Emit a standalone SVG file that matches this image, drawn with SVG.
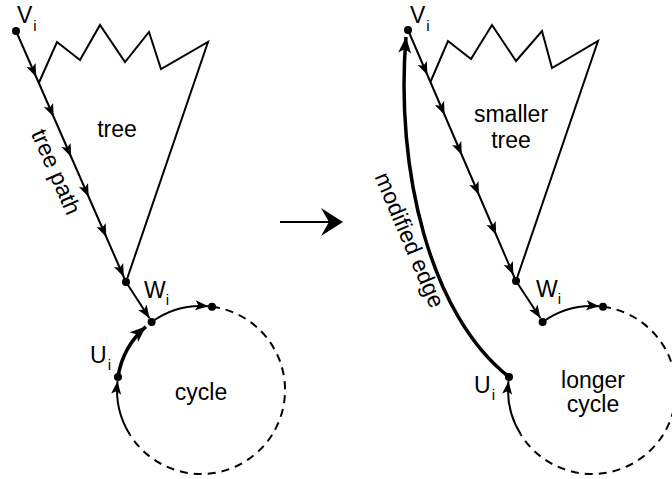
<svg xmlns="http://www.w3.org/2000/svg" width="672" height="479" viewBox="0 0 672 479">
<style>
.ln{fill:none;stroke:#000;stroke-width:2;stroke-linejoin:miter}
.bold{stroke-width:3.5}
.dash{stroke-dasharray:8 6}
.dot{fill:#000}
text{font-family:"Liberation Sans",Arial,sans-serif;fill:#000}
.t{font-size:23px;text-anchor:middle}
</style>
<defs>
<marker id="ah" markerUnits="userSpaceOnUse" markerWidth="16" markerHeight="12" viewBox="-14 -6 16 12" refX="0" refY="0" orient="auto">
<path d="M0,0 L-13,-5 L-10,0 L-13,5 z" fill="#000"/>
</marker>
<marker id="ahb" markerUnits="userSpaceOnUse" markerWidth="20" markerHeight="16" viewBox="-17 -8 20 16" refX="0" refY="0" orient="auto">
<path d="M0,0 L-16,-6.5 L-12,0 L-16,6.5 z" fill="#000"/>
</marker>
</defs>

<g id="connectors">
<polyline class="ln" marker-mid="url(#ah)" points="16,31 36.2,77 53.7,117 71.2,157 88.7,197 106.3,237 123.8,277 126,282"/>
<line class="ln" marker-end="url(#ah)" x1="126" y1="282" x2="149.5" y2="318.2"/>
<path class="ln" marker-end="url(#ah)" d="M129.8,434.5 A84,84 0 0,1 117.5,381.2"/>
<path class="ln bold" marker-end="url(#ahb)" d="M118,376.9 A84,84 0 0,1 145.9,326.6"/>
<path class="ln" marker-end="url(#ah)" d="M151.6,322 A84,84 0 0,1 208.3,306.3"/>
<path class="ln dash" d="M212,306.7 A84,84 0 1,1 129.8,434.5"/>

<line class="ln" x1="280" y1="222" x2="332" y2="222"/>
<polygon points="343,222 321,208 329,222 321,236" fill="#000"/>

<polyline class="ln" marker-mid="url(#ah)" points="408,30 427.4,75 444.6,115 461.8,155 479,195 496.2,235 513.4,275 516,281"/>
<line class="ln" marker-end="url(#ah)" x1="516" y1="281" x2="540.5" y2="318.2"/>
<path class="ln" marker-end="url(#ah)" d="M520.8,434.5 A84,84 0 0,1 508.5,381.2"/>
<path class="ln" marker-end="url(#ah)" d="M542.6,322 A84,84 0 0,1 599.3,306.3"/>
<path class="ln dash" d="M603,306.7 A84,84 0 1,1 520.8,434.5"/>
<path class="ln bold" marker-end="url(#ahb)" d="M509,377 C430,315 395,170 406,37"/>
</g>

<g id="tree-left">
<polyline class="ln" points="38.8,83 57,42 80,60 100,25 125,62 149,32 161,69 208,42 126,282"/>
<text class="t" x="117" y="137">tree</text>
</g>
<g id="tree-right">
<polyline class="ln" points="430.4,82 448,41 471,59 492,25 516,61 542,31 552,68 598,41 516,281"/>
<text class="t" x="511" y="122">smaller</text>
<text class="t" x="511" y="148">tree</text>
</g>

<g id="label-tree-path">
<text class="t" transform="translate(49,175) rotate(66.3)">tree path</text>
</g>
<g id="label-modified-edge">
<text class="t" transform="translate(402.6,243) rotate(67)">modified edge</text>
</g>

<g id="cycle-left">
<text class="t" x="201" y="400">cycle</text>
</g>
<g id="cycle-right">
<text class="t" x="593" y="388">longer</text>
<text class="t" x="593" y="412">cycle</text>
</g>

<g id="node-v-left">
<circle class="dot" cx="16" cy="31" r="4"/>
<text x="17" y="23" font-size="23">V<tspan font-size="15" dx="1" dy="8">i</tspan></text>
</g>
<g id="node-w-left">
<circle class="dot" cx="126" cy="282" r="4"/>
<text x="144" y="298" font-size="23">W<tspan font-size="15" dx="0" dy="7">i</tspan></text>
</g>
<g id="node-join-left">
<circle class="dot" cx="151.6" cy="322" r="4"/>
</g>
<g id="node-u-left">
<circle class="dot" cx="118" cy="376.9" r="4"/>
<text x="90" y="363" font-size="23">U<tspan font-size="15" dx="1" dy="7">i</tspan></text>
</g>
<g id="node-d-left">
<circle class="dot" cx="212" cy="306.7" r="4"/>
</g>

<g id="node-v-right">
<circle class="dot" cx="408" cy="30" r="4"/>
<text x="410" y="23" font-size="23">V<tspan font-size="15" dx="1" dy="8">i</tspan></text>
</g>
<g id="node-w-right">
<circle class="dot" cx="516" cy="281" r="4"/>
<text x="536" y="297" font-size="23">W<tspan font-size="15" dx="0" dy="7">i</tspan></text>
</g>
<g id="node-join-right">
<circle class="dot" cx="542.6" cy="322" r="4"/>
</g>
<g id="node-u-right">
<circle class="dot" cx="509" cy="376.9" r="4"/>
<text x="474" y="393" font-size="23">U<tspan font-size="15" dx="1" dy="7">i</tspan></text>
</g>
<g id="node-d-right">
<circle class="dot" cx="603" cy="306.7" r="4"/>
</g>
</svg>
